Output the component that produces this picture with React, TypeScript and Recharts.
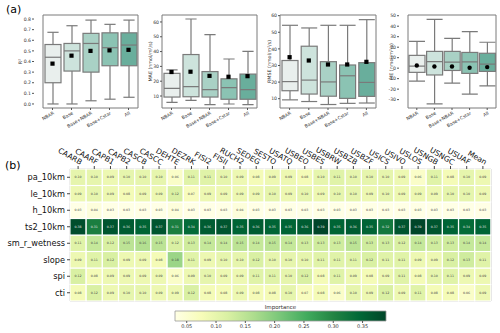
import React from "react";
import { ComposedChart, BarChart, Bar, Scatter, XAxis, YAxis, ReferenceArea } from "recharts";

const FONT = "'DejaVu Sans', sans-serif";
const EDGE = "#7a7a7a";

const groups = ["NBAR", "Base", "Base+NBAR", "Base+Cstar", "All"];
const boxFills = ["#e9efed", "#cde3dc", "#a9d1c5", "#8bc3b3", "#69ae9c"];

// per group: [lower whisker, q1, median, q3, upper whisker, mean]
const r2Stats = [
  [0.0, 0.2, 0.44, 0.56, 0.675, 0.38],
  [0.0, 0.31, 0.5, 0.57, 0.737, 0.455],
  [0.03, 0.3, 0.57, 0.665, 0.79, 0.5],
  [0.045, 0.36, 0.53, 0.67, 0.75, 0.505],
  [0.063, 0.36, 0.555, 0.67, 0.79, 0.51],
];
const maeStats = [
  [5.7, 9.3, 15.2, 25.3, 27.6, 26.2],
  [7.0, 9.5, 16.4, 38.0, 62.0, 26.4],
  [4.2, 9.3, 14.3, 26.5, 51.5, 23.6],
  [4.6, 7.8, 15.7, 21.6, 35.0, 23.0],
  [4.2, 7.8, 14.3, 24.8, 40.2, 23.4],
];
const rmseStats = [
  [9.3, 14.8, 20.3, 33.0, 54.2, 35.0],
  [8.3, 12.8, 21.2, 41.6, 52.6, 33.0],
  [6.5, 11.5, 20.1, 32.3, 54.2, 30.6],
  [7.2, 10.2, 23.8, 30.3, 54.2, 30.6],
  [7.4, 11.4, 19.8, 31.7, 57.6, 32.2],
];
const meStats = [
  [-12.3, -4.0, 1.9, 12.2, 25.5, 2.6],
  [-34.0, -6.5, 6.3, 16.0, 46.6, 1.6],
  [-14.2, -2.2, 5.8, 16.0, 28.5, 1.6],
  [-24.7, -5.0, 5.9, 15.0, 34.8, 0.4],
  [-16.9, -3.1, 3.9, 14.2, 24.7, 1.0],
];

const sites = [
  "CAARB", "CAARF", "CAPB1", "CAPB2", "CASCB", "CASCC", "DEHTE", "DEZRK", "FISI2", "FISII",
  "RUCH2", "SEDEG", "SESTO", "USATQ", "USBEO", "USBES", "USBRW", "USBZB", "USBZF", "USICS",
  "USIVO", "USLOS", "USNGB", "USNGC", "USUAF", "Mean",
];
const features = ["pa_10km", "le_10km", "h_10km", "ts2_10km", "sm_r_wetness", "slope", "spi", "cti"];

const paImp = [0.10, 0.10, 0.09, 0.10, 0.10, 0.10, 0.06, 0.11, 0.11, 0.10, 0.09, 0.08, 0.09, 0.09, 0.08, 0.10, 0.11, 0.10, 0.10, 0.10, 0.09, 0.06, 0.11, 0.08, 0.10, 0.09];
const leImp = [0.09, 0.10, 0.09, 0.08, 0.09, 0.09, 0.12, 0.07, 0.09, 0.09, 0.09, 0.09, 0.10, 0.09, 0.10, 0.09, 0.10, 0.10, 0.09, 0.10, 0.09, 0.09, 0.09, 0.10, 0.10, 0.09];
const hImp = [0.03, 0.04, 0.03, 0.03, 0.03, 0.03, 0.04, 0.03, 0.03, 0.03, 0.04, 0.03, 0.03, 0.03, 0.03, 0.03, 0.03, 0.03, 0.03, 0.03, 0.03, 0.03, 0.03, 0.03, 0.03, 0.03];
const tsImp = [0.38, 0.31, 0.37, 0.36, 0.35, 0.37, 0.31, 0.34, 0.36, 0.37, 0.35, 0.36, 0.35, 0.35, 0.36, 0.39, 0.35, 0.36, 0.35, 0.32, 0.37, 0.39, 0.37, 0.35, 0.34, 0.35];
const smImp = [0.11, 0.14, 0.12, 0.15, 0.16, 0.15, 0.12, 0.13, 0.14, 0.14, 0.15, 0.14, 0.15, 0.14, 0.13, 0.13, 0.13, 0.15, 0.13, 0.13, 0.12, 0.14, 0.13, 0.13, 0.14, 0.14];
const slopeImp = [0.09, 0.11, 0.12, 0.09, 0.09, 0.08, 0.18, 0.11, 0.09, 0.10, 0.10, 0.12, 0.10, 0.10, 0.10, 0.11, 0.11, 0.11, 0.12, 0.11, 0.11, 0.09, 0.09, 0.12, 0.13, 0.11];
const spiImp = [0.12, 0.08, 0.09, 0.09, 0.09, 0.09, 0.06, 0.09, 0.10, 0.09, 0.09, 0.11, 0.11, 0.10, 0.12, 0.08, 0.11, 0.09, 0.08, 0.09, 0.11, 0.08, 0.10, 0.11, 0.09, 0.09];
const ctiImp = [0.08, 0.12, 0.09, 0.10, 0.10, 0.09, 0.09, 0.12, 0.08, 0.08, 0.09, 0.08, 0.08, 0.10, 0.07, 0.08, 0.06, 0.10, 0.09, 0.12, 0.09, 0.11, 0.08, 0.08, 0.06, 0.09];

const importance: Record<string, number[]> = {
  pa_10km: paImp,
  le_10km: leImp,
  h_10km: hImp,
  ts2_10km: tsImp,
  sm_r_wetness: smImp,
  slope: slopeImp,
  spi: spiImp,
  cti: ctiImp,
};

const cbTicks = [0.05, 0.1, 0.15, 0.2, 0.25, 0.3, 0.35];
const VMIN = 0.03;
const VMAX = 0.39;

// matplotlib YlGn
const ylgn = ["#ffffe5", "#f7fcb9", "#d9f0a3", "#addd8e", "#78c679", "#41ab5d", "#238443", "#006837", "#004529"];

function hexToRgb(h: string) {
  return [1, 3, 5].map((i) => parseInt(h.slice(i, i + 2), 16));
}

function colorFor(v: number) {
  const t = Math.max(0, Math.min(1, (v - VMIN) / (VMAX - VMIN)));
  const pos = t * (ylgn.length - 1);
  const i = Math.min(ylgn.length - 2, Math.floor(pos));
  const f = pos - i;
  const a = hexToRgb(ylgn[i]);
  const b = hexToRgb(ylgn[i + 1]);
  const c = a.map((x, k) => Math.round(x + (b[k] - x) * f));
  return `rgb(${c[0]},${c[1]},${c[2]})`;
}

const BoxShape = (props: any) => {
  const { x, y, width, height, payload, index, capFrac } = props;
  const [lo, q1, med, q3, hi] = payload.stats;
  const top = Math.min(y, y + height);
  const h = Math.abs(height);
  const py = (v: number) => top + ((hi - v) / (hi - lo)) * h;
  const cx = x + width / 2;
  const cap = (width * capFrac) / 2;
  return (
    <g>
      <line x1={cx} x2={cx} y1={py(hi)} y2={py(q3)} stroke={EDGE} strokeWidth={1.2} />
      <line x1={cx} x2={cx} y1={py(q1)} y2={py(lo)} stroke={EDGE} strokeWidth={1.2} />
      <line x1={cx - cap} x2={cx + cap} y1={py(hi)} y2={py(hi)} stroke={EDGE} strokeWidth={1.2} />
      <line x1={cx - cap} x2={cx + cap} y1={py(lo)} y2={py(lo)} stroke={EDGE} strokeWidth={1.2} />
      <rect x={x} y={py(q3)} width={width} height={py(q1) - py(q3)} fill={boxFills[index]} stroke={EDGE} strokeWidth={1.2} />
      <line x1={x} x2={x + width} y1={py(med)} y2={py(med)} stroke={EDGE} strokeWidth={1.2} />
    </g>
  );
};

const BoxTick = ({ x, y, payload }: any) => (
  <text x={x + 2} y={y + 2} transform={`rotate(-30 ${x + 2} ${y + 2})`} textAnchor="end" fontSize={4.6} fill="#333">
    {payload.value}
  </text>
);

type PanelProps = {
  stats: number[][];
  domain: [number, number];
  ticks: number[];
  label: string;
  frameLeft: number;
  frameWidth: number;
  axisWidth: number;
  padLeft: number;
  marker: "circle" | "square";
  capFrac: number;
  fmt?: (v: number) => string;
};

function BoxPanel(p: PanelProps) {
  const data = groups.map((g, i) => ({
    name: g,
    stats: p.stats[i],
    range: [p.stats[i][0], p.stats[i][4]],
    mean: p.stats[i][5],
  }));
  const width = p.axisWidth + p.frameWidth + 2;
  return (
    <div style={{ position: "absolute", left: p.frameLeft - p.axisWidth, top: 0 }}>
      <ComposedChart width={width} height={130} data={data} margin={{ top: 15, right: 2, bottom: 0, left: 0 }}>
        <XAxis
          dataKey="name"
          height={22}
          interval={0}
          tick={<BoxTick />}
          tickSize={2}
          tickLine={{ stroke: "#555" }}
          axisLine={false}
          padding={{ left: p.padLeft, right: 0 }}
        />
        <YAxis
          type="number"
          domain={p.domain}
          ticks={p.ticks}
          allowDataOverflow
          width={p.axisWidth}
          tickSize={2}
          tickMargin={1}
          axisLine={false}
          tickLine={{ stroke: "#555" }}
          tick={{ fontSize: 4.6, fill: "#333" }}
          tickFormatter={p.fmt}
          label={{
            value: p.label,
            angle: -90,
            position: "insideLeft",
            offset: 4,
            style: { textAnchor: "middle", fontSize: 4.8, fill: "#333" },
          }}
        />
        <Bar
          dataKey="range"
          barSize={16}
          isAnimationActive={false}
          shape={(sp: any) => <BoxShape {...sp} capFrac={p.capFrac} />}
        />
        <Scatter
          dataKey="mean"
          isAnimationActive={false}
          shape={(sp: any) =>
            p.marker === "circle" ? (
              <circle cx={sp.cx} cy={sp.cy} r={2.2} fill="#000" />
            ) : (
              <rect x={sp.cx - 2.1} y={sp.cy - 2.1} width={4.2} height={4.2} fill="#000" />
            )
          }
        />
        <ReferenceArea y1={p.domain[0]} y2={p.domain[1]} fill="none" stroke={EDGE} strokeWidth={1} ifOverflow="visible" />
      </ComposedChart>
    </div>
  );
}

const HeatCell = (props: any) => {
  const { x, y, width, height, payload, feature } = props;
  const v = importance[feature][payload.idx];
  return (
    <g>
      <rect x={x} y={y} width={width} height={height} fill={colorFor(v)} stroke="#fff" strokeWidth={1.1} />
      <text
        x={x + width / 2}
        y={y + height / 2}
        textAnchor="middle"
        dominantBaseline="central"
        fontSize={3.2}
        fill={v >= 0.25 ? "#e6e6e6" : "#444"}
      >
        {v.toFixed(2)}
      </text>
    </g>
  );
};

const SiteTick = ({ x, y, payload }: any) => (
  <g transform={`translate(${x + 2},${y + 1})`}>
    <text transform="rotate(30)" textAnchor="end" fontSize={7.5} fill="#111">
      {payload.value}
    </text>
  </g>
);

const bottomUp = [...features].reverse();
const rowTicks = bottomUp.map((_, i) => i + 0.5);

function Heatmap() {
  const data = sites.map((s, i) => {
    const row: any = { site: s, idx: i };
    features.forEach((f) => (row[f] = 1));
    return row;
  });
  return (
    <div style={{ position: "absolute", left: 0, top: 120 }}>
      <BarChart width={500} height={185} data={data} margin={{ top: 0, right: 9, bottom: 4, left: 0 }} barCategoryGap={0}>
        <XAxis
          dataKey="site"
          orientation="top"
          height={49}
          interval={0}
          tick={<SiteTick />}
          tickSize={3}
          tickLine={{ stroke: "#444" }}
          axisLine={false}
        />
        <YAxis
          type="number"
          domain={[0, 8]}
          ticks={rowTicks}
          interval={0}
          width={70}
          tickSize={3}
          tickMargin={2}
          axisLine={false}
          tickLine={{ stroke: "#444" }}
          tick={{ fontSize: 8.2, fill: "#111" }}
          tickFormatter={(v: number) => bottomUp[Math.floor(v)]}
        />
        {bottomUp.map((f) => (
          <Bar
            key={f}
            dataKey={f}
            stackId="h"
            isAnimationActive={false}
            shape={(sp: any) => <HeatCell {...sp} feature={f} />}
          />
        ))}
        <ReferenceArea y1={0} y2={8} fill="none" stroke="#b5b5b5" strokeWidth={1} />
      </BarChart>
    </div>
  );
}

function ColorBar() {
  const data = cbTicks.map((t) => ({ t, y: 0.5 }));
  return (
    <div style={{ position: "absolute", left: 170, top: 300 }}>
      <ComposedChart width={222} height={33} data={data} margin={{ top: 11, right: 6, bottom: 0, left: 5 }}>
        <defs>
          <linearGradient id="ylgnGrad" x1="0" y1="0" x2="1" y2="0">
            {ylgn.map((c, i) => (
              <stop key={c} offset={i / (ylgn.length - 1)} stopColor={c} />
            ))}
          </linearGradient>
        </defs>
        <XAxis
          type="number"
          dataKey="t"
          domain={[VMIN, VMAX]}
          ticks={cbTicks}
          height={12}
          tickSize={2}
          tickMargin={1}
          axisLine={false}
          tickLine={{ stroke: "#555" }}
          tick={{ fontSize: 5, fill: "#333" }}
          tickFormatter={(v: number) => v.toFixed(2)}
        />
        <YAxis hide domain={[0, 1]} />
        <Scatter dataKey="y" isAnimationActive={false} shape={() => <g />} />
        <ReferenceArea
          x1={VMIN}
          x2={VMAX}
          y1={0}
          y2={1}
          fill="url(#ylgnGrad)"
          fillOpacity={1}
          stroke="#999"
          strokeWidth={0.8}
          label={{ value: "Importance", position: "top", offset: 2, fontSize: 5.5, fill: "#333" }}
        />
      </ComposedChart>
    </div>
  );
}

export default function App() {
  return (
    <div style={{ position: "absolute", left: 0, top: 0, width: 500, height: 333, background: "#fff", fontFamily: FONT }}>
      <div style={{ position: "absolute", left: 6, top: 3, fontSize: 11, lineHeight: "14px" }}>(a)</div>
      <div style={{ position: "absolute", left: 5, top: 159, fontSize: 11, lineHeight: "14px" }}>(b)</div>
      <BoxPanel
        stats={r2Stats}
        domain={[-0.038, 0.838]}
        ticks={[0, 0.1, 0.2, 0.3, 0.4, 0.5, 0.6, 0.7, 0.8]}
        label="R²"
        frameLeft={34}
        frameWidth={104}
        axisWidth={18}
        padLeft={9}
        marker="square"
        capFrac={0.7}
        fmt={(v) => v.toFixed(1)}
      />
      <BoxPanel
        stats={maeStats}
        domain={[1.9, 64.7]}
        ticks={[10, 20, 30, 40, 50, 60]}
        label="MAE (nmol/m²/s)"
        frameLeft={162}
        frameWidth={95}
        axisWidth={16}
        padLeft={0}
        marker="square"
        capFrac={0.7}
      />
      <BoxPanel
        stats={rmseStats}
        domain={[4.4, 60.4]}
        ticks={[10, 20, 30, 40, 50, 60]}
        label="RMSE (nmol/m²/s)"
        frameLeft={280}
        frameWidth={96}
        axisWidth={15}
        padLeft={0}
        marker="square"
        capFrac={1}
      />
      <BoxPanel
        stats={meStats}
        domain={[-38, 50.7]}
        ticks={[-30, -20, -10, 0, 10, 20, 30, 40, 50]}
        label="ME (nmol/m²/s)"
        frameLeft={399}
        frameWidth={97}
        axisWidth={12}
        padLeft={9}
        marker="circle"
        capFrac={1}
      />
      <Heatmap />
      <ColorBar />
    </div>
  );
}
